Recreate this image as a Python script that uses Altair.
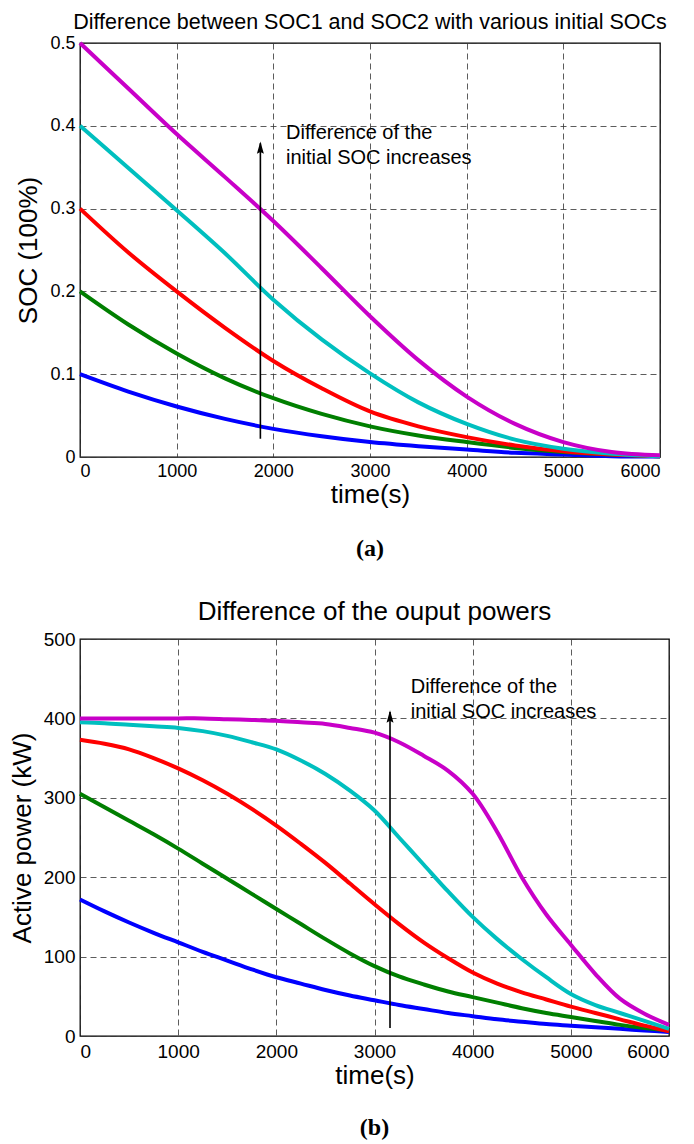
import altair as alt
import pandas as pd

# ---------------- data ----------------
series = ["0.1", "0.2", "0.3", "0.4", "0.5"]
colors = ["#0000FF", "#007F00", "#FF0000", "#00BFBF", "#C800C8"]

# (a) SOC difference, sampled every 500 s
time_soc = [0, 500, 1000, 1500, 2000, 2500, 3000, 3500, 4000, 4500, 5000, 5500, 6000]
soc_01 = [0.100, 0.079, 0.061, 0.046, 0.034, 0.025, 0.018, 0.013, 0.009, 0.005, 0.003, 0.001, 0.0005]
soc_02 = [0.200, 0.160, 0.125, 0.095, 0.071, 0.052, 0.037, 0.026, 0.018, 0.011, 0.006, 0.003, 0.001]
soc_03 = [0.300, 0.247, 0.200, 0.156, 0.116, 0.083, 0.055, 0.037, 0.024, 0.014, 0.007, 0.003, 0.001]
soc_04 = [0.400, 0.349, 0.298, 0.246, 0.190, 0.142, 0.101, 0.066, 0.040, 0.021, 0.010, 0.004, 0.001]
soc_05 = [0.500, 0.445, 0.390, 0.338, 0.285, 0.228, 0.170, 0.117, 0.073, 0.040, 0.018, 0.006, 0.002]

# (b) output power difference, sampled every 250 s
time_pw = [0, 250, 500, 750, 1000, 1250, 1500, 1750, 2000, 2250, 2500, 2750, 3000,
           3250, 3500, 3750, 4000, 4250, 4500, 4750, 5000, 5250, 5500, 5750, 6000]
pw_01 = [172, 157, 143, 130, 118, 106, 95, 84, 74, 66, 58, 51, 45,
         39, 34, 29, 25, 21, 18, 15, 13, 11, 9, 7, 5]
pw_02 = [305, 288, 271, 254, 236, 217, 198, 179, 160, 141, 122, 104, 88,
         75, 65, 56, 49, 42, 35, 29, 24, 19, 14, 10, 7]
pw_03 = [373, 368, 361, 350, 337, 322, 305, 286, 265, 242, 218, 192, 166,
         141, 118, 98, 80, 66, 55, 46, 37, 29, 21, 13, 6]
pw_04 = [395, 394, 392, 390, 388, 384, 378, 370, 361, 347, 330, 309, 284,
         250, 216, 182, 150, 122, 97, 74, 53, 39, 29, 19, 9]
pw_05 = [400, 400, 400, 400, 400, 400, 399, 398, 397, 395, 393, 388, 382,
         370, 353, 334, 305, 257, 200, 153, 115, 78, 47, 28, 14]

x_ticks = [0, 1000, 2000, 3000, 4000, 5000, 6000]
soc_ticks = [0, 0.1, 0.2, 0.3, 0.4, 0.5]
pw_ticks = [0, 100, 200, 300, 400, 500]

# arrows: (time, bottom value, top value)
arrow_a = [1866, 0.022, 0.379]
arrow_b = [3158, 10, 408]
note_lines = ["Difference of the", "initial SOC increases"]
note_a = [2131, 0.391, 0.361]
note_b = [3369, 440, 408]

FONT = "Liberation Sans"


def to_long(times, values_list):
    rows = []
    for name, vals in zip(series, values_list):
        for t, v in zip(times, vals):
            rows.append({"t": t, "v": v, "s": name})
    return pd.DataFrame(rows)


def panel(df, yticks, ytitle, title, title_size, title_offset, w, h, arrow, note,
          caption, ylab_expr, lab_size, xlab_pad, cap_offset):
    x = alt.X("t:Q", scale=alt.Scale(domain=[0, 6000], nice=False),
              axis=alt.Axis(values=x_ticks, format="d", title="time(s)",
                            labelFontSize=lab_size, labelPadding=xlab_pad,
                            labelOverlap=False, titlePadding=1))
    y = alt.Y("v:Q", scale=alt.Scale(domain=[yticks[0], yticks[-1]], nice=False),
              axis=alt.Axis(values=yticks, labelExpr=ylab_expr, title=ytitle,
                            labelFontSize=lab_size, labelPadding=5,
                            labelOverlap=False, titlePadding=8))
    lines = alt.Chart(df).mark_line(strokeWidth=4, interpolate="catmull-rom").encode(
        x=x, y=y,
        color=alt.Color("s:N", scale=alt.Scale(domain=series, range=colors), legend=None),
        detail="s:N")
    adf = pd.DataFrame({"t": [arrow[0]], "v": [arrow[1]], "v2": [arrow[2]]})
    shaft = alt.Chart(adf).mark_rule(color="black", strokeWidth=1.6).encode(
        x="t:Q", y="v:Q", y2="v2:Q")
    head = alt.Chart(adf).mark_point(
        shape="M0,-1L-0.45,0.6L0,0.35L0.45,0.6Z", filled=True, color="black",
        opacity=1, size=240, yOffset=6).encode(x="t:Q", y="v2:Q")
    ndf = pd.DataFrame({"t": [note[0], note[0]], "v": [note[1], note[2]], "txt": note_lines})
    text = alt.Chart(ndf).mark_text(align="left", baseline="middle", font=FONT,
                                    fontSize=20, color="black").encode(
        x="t:Q", y="v:Q", text="txt:N")
    cap = alt.Chart(pd.DataFrame({"c": [caption]})).mark_text(
        font="Liberation Serif", fontSize=24, fontWeight="bold", color="black",
        baseline="middle").encode(
        x=alt.value(w / 2), y=alt.value(h + cap_offset), text="c:N")
    return alt.layer(lines, shaft, head, text, cap).properties(
        width=w, height=h,
        title=alt.TitleParams(title, fontSize=title_size, font=FONT,
                              fontWeight="normal", color="black", offset=title_offset))


top = panel(to_long(time_soc, [soc_01, soc_02, soc_03, soc_04, soc_05]), soc_ticks,
            "SOC (100%)", "Difference between SOC1 and SOC2 with various initial SOCs",
            21.5, 1, 580, 414, arrow_a, note_a, "(a)",
            "datum.value == 0 ? '0' : format(datum.value, '.1f')", 18, 5, 92)
bottom = panel(to_long(time_pw, [pw_01, pw_02, pw_03, pw_04, pw_05]), pw_ticks,
               "Active power (kW)", "Difference of the ouput powers",
               26, 5, 589, 397, arrow_b, note_b, "(b)",
               "format(datum.value, 'd')", 19, 6, 92)

chart = alt.vconcat(top, bottom, spacing=36).properties(
    padding={"left": 8, "top": 10, "right": 6, "bottom": 0}
).configure_view(
    stroke="black", strokeWidth=1.3
).configure_axis(
    labelFont=FONT, labelColor="black",
    titleFont=FONT, titleFontSize=26, titleFontWeight="normal", titleColor="black",
    grid=True, gridDash=[6, 4], gridColor="#333333", gridOpacity=0.8, gridWidth=1,
    ticks=False, domain=False
)

chart.save("out.html", embed_options={"renderer": "svg", "actions": False})
